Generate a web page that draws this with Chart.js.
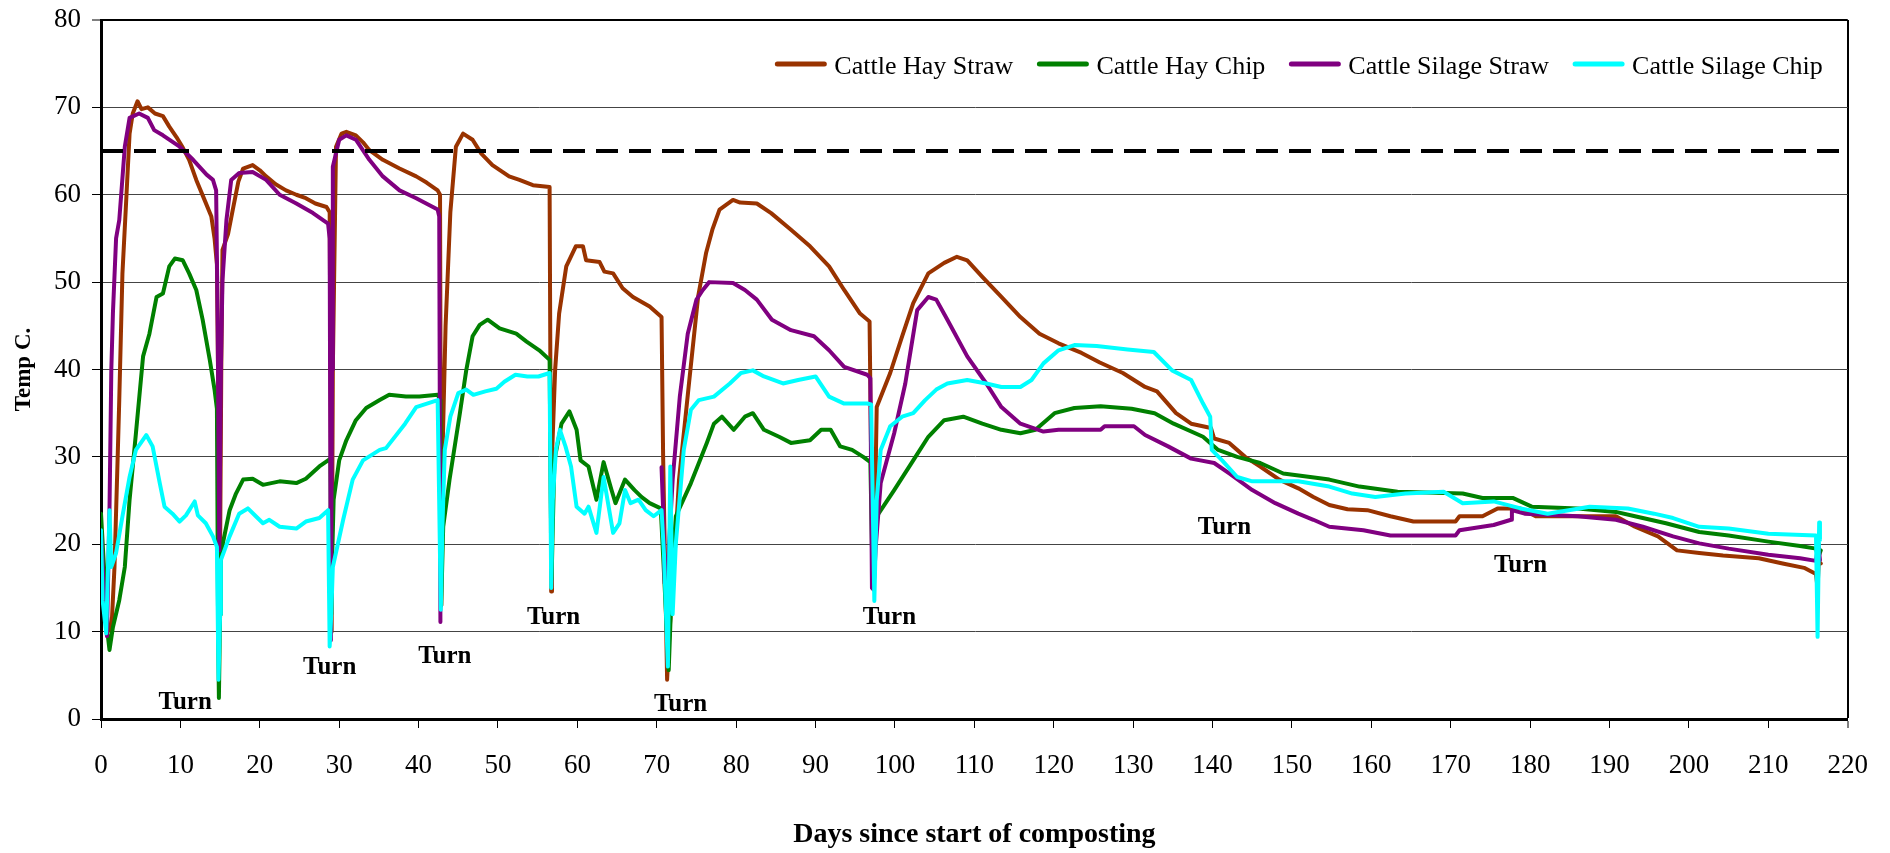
<!DOCTYPE html>
<html><head><meta charset="utf-8">
<script src="https://cdn.jsdelivr.net/npm/chart.js@4.4.0/dist/chart.umd.min.js"></script>
<style>html,body{margin:0;padding:0;background:#fff}#wrap{width:1890px;height:853px;position:relative}</style>
</head><body><div id="wrap"><canvas id="c"></canvas></div>
<script>
const seriesNames = ['Cattle Hay Straw', 'Cattle Hay Chip', 'Cattle Silage Straw', 'Cattle Silage Chip'];
const seriesColors = ['#993300', '#008000', '#800080', '#00FFFF'];

const hayStrawDays = [0,0.5,0.9,1.3,1.7,2.1,2.3,2.7,3.2,3.6,4.0,4.6,5.1,5.9,6.8,7.8,8.6,9.5,10.3,11.1,12.0,13.0,13.9,14.3,14.6,14.85,15.0,15.15,15.3,16.0,16.6,17.3,17.9,19.1,20.0,20.8,22.0,23.3,24.6,25.8,27.0,28.4,28.8,28.95,29.05,29.2,29.6,30.3,30.9,32.1,33.0,33.8,35.5,37.6,39.7,41.0,42.4,42.7,42.85,43.0,43.4,44.0,44.7,45.6,46.8,47.9,49.3,51.4,52.7,54.4,56.5,56.6,56.7,56.8,57.2,57.7,58.6,59.8,60.7,61.1,62.8,63.4,64.5,65.7,67.0,69.1,70.6,70.8,71.3,71.6,72.2,72.8,74.1,75.2,76.2,77.0,77.9,79.6,80.5,82.6,84.4,86.9,89.3,91.7,93.6,95.6,96.8,97.0,97.3,97.5,97.7,99.4,100.9,102.3,104.2,106.2,107.8,109.1,111.0,113.4,115.8,118.2,120.6,123.5,125.8,128.7,131.5,133.0,135.4,137.3,139.8,140.2,142.1,144.1,146.0,148.4,150.8,152.7,154.7,157.0,159.5,162.4,165.3,170.6,171.1,174.0,175.9,178.8,180.7,186.0,190.8,193.2,196.1,198.5,201.3,204.3,208.8,211.8,214.5,216.0,216.2,216.35,216.6];
const hayStrawTemps = [20.5,14,10.5,10,17.4,30,36.5,51,59.8,67,69.3,70.7,69.8,70.0,69.3,69.0,67.8,66.6,65.4,64.0,61.7,59.5,57.5,55,52,30,19,40,53.7,55.5,58.3,61.5,63.0,63.4,62.8,62.1,61.2,60.5,60.0,59.6,59.0,58.6,58.0,30,10,40,65.5,67.0,67.2,66.8,66.0,65.1,64.0,63.0,62.1,61.4,60.5,60,13,30,45,58,65.5,67.0,66.3,64.7,63.4,62.1,61.7,61.1,60.9,40,14.6,30,40,46.4,51.8,54.1,54.1,52.5,52.3,51.2,51.0,49.3,48.3,47.2,46.0,30,4.5,10,18,27.4,38.8,48.3,53.3,56,58.3,59.4,59.1,59.0,57.9,56.0,54.1,51.8,49.1,46.4,45.5,30,16,25,35.7,39.6,43.8,47.6,51.0,52.2,52.9,52.5,50.6,48.3,46.0,44.1,43.0,41.9,40.8,39.6,38.0,37.5,35.0,33.8,33.3,32.1,31.6,30.0,28.9,27.4,26.4,25.4,24.5,24.0,23.9,23.2,22.6,22.6,23.2,23.2,24.1,24.1,23.2,23.2,23.2,22.0,20.9,19.3,19.0,18.7,18.4,17.8,17.3,16.6,15,18,17.8];

const hayChipDays = [0,0.4,0.8,1.07,1.5,2.3,3.0,3.6,4.4,5.3,6.1,7.0,7.8,8.6,9.3,10.3,11.1,12.0,12.8,13.7,14.3,14.6,14.75,14.85,15.0,15.1,16.2,17.0,17.9,19.1,20.4,22.5,24.6,25.8,27.5,28.6,28.9,29.0,29.1,29.3,30.0,30.9,32.1,33.4,35.1,36.3,38.4,40.1,42.4,42.75,42.85,43.1,43.9,45.2,46.0,46.8,47.7,48.7,50.2,52.3,53.6,55.2,56.5,56.65,56.75,57.1,58.0,59.0,59.9,60.4,61.4,62.4,63.3,64.3,64.8,66.0,67.2,68.1,69.1,70.5,71.0,71.5,72.0,72.4,74.3,76.3,77.2,78.2,79.7,81.1,82.1,83.5,85.4,86.9,89.3,90.7,91.9,93.1,94.6,96.0,96.9,97.2,97.5,97.7,99.9,102.3,104.2,106.2,108.6,111.0,113.4,115.8,117.7,120.1,122.6,125.9,129.8,132.7,135.1,138.8,140.7,143.1,146.0,148.9,152.3,154.7,158.5,163.3,171.5,174.0,177.8,180.2,186.0,190.8,193.2,197.1,201.3,205.0,210.0,214.0,216.0,216.3,216.6];
const hayChipTemps = [23.5,17,10,7.9,10.5,13.6,17.4,25.1,32.7,41.5,44.1,48.3,48.7,51.8,52.7,52.5,51.0,49.1,45.7,41.1,37.7,35.5,10,2.4,12,19.0,23.9,25.8,27.4,27.5,26.8,27.2,27.0,27.5,28.9,29.6,29.8,12,18,25.1,29.6,31.9,34.2,35.6,36.5,37.1,36.9,36.9,37.1,36.5,13,22.0,27.4,35.0,39.9,43.8,45.1,45.7,44.7,44.1,43.2,42.2,41.1,25,16,29.6,33.8,35.2,33.1,29.6,28.9,25.1,29.4,26.2,24.7,27.4,26.2,25.4,24.7,24.1,15,5.6,18,23.2,27.0,31.6,33.8,34.6,33.1,34.6,35.0,33.1,32.3,31.6,31.9,33.1,33.1,31.2,30.8,30.0,29.4,15,20,23.2,26.2,29.6,32.3,34.2,34.6,33.8,33.1,32.7,33.1,35.0,35.6,35.8,35.5,35.0,33.8,32.3,30.8,30.0,29.3,28.1,27.7,27.4,26.6,26.0,25.8,25.3,25.3,24.3,24.1,23.7,23.2,22.4,21.4,21.0,20.3,19.8,19.5,18.5,19.3];

const silageStrawDays = [0,0.4,0.75,1.07,1.3,1.5,1.9,2.3,3.0,3.6,4.8,5.9,6.7,7.8,9.9,11.6,13.3,14.1,14.5,14.7,14.9,15.1,15.3,15.8,16.4,17.4,19.1,20.8,22.5,24.6,26.7,28.6,28.8,28.95,29.1,29.2,30.0,30.9,32.1,33.8,35.5,37.6,39.7,42.4,42.6,42.75,43.0,70.6,70.8,71.0,71.3,72.0,72.9,73.9,75.0,75.8,76.6,79.6,81.1,82.6,84.5,86.9,89.8,91.7,93.6,96.5,96.9,97.1,97.3,97.6,98.2,99.9,101.3,102.8,104.2,105.2,106.6,109.1,111.5,113.4,115.8,118.7,120.6,125.9,126.4,130.1,131.5,134.4,137.3,140.2,142.1,145.0,147.9,150.8,152.7,154.7,159.0,162.4,170.6,171.1,175.4,177.6,177.7,179.3,186.0,190.8,194.2,198.0,201.3,205.0,210.0,214.0,216.0,216.3,216.5];
const silageStrawTemps = [21.5,14,9.5,24,40,46.4,55,57.1,65.5,68.8,69.3,68.8,67.4,66.8,65.5,64.0,62.3,61.7,60.5,45,19.3,40,50.2,57.1,61.7,62.5,62.6,61.7,60.0,59.0,57.9,56.7,55,9,40,63.2,66.3,66.8,66.3,64.0,62.1,60.5,59.6,58.3,57.5,11.1,null,28.8,24,15.5,16,27.4,36.9,44.1,48.0,49.1,50.0,49.9,49.1,48.0,45.7,44.5,43.8,42.2,40.3,39.4,39,15,14.8,20,27.0,32.7,38.4,46.8,48.3,48.0,45.7,41.5,38.4,35.7,33.8,32.9,33.1,33.1,33.5,33.5,32.5,31.2,29.8,29.3,28.1,26.2,24.7,23.5,22.8,22.0,21.6,21.0,21.0,21.6,22.2,22.8,23.9,23.5,23.2,22.8,22.0,20.9,20.1,19.5,18.8,18.4,18.1,20,18.2];

const silageChipDays = [0,0.2,0.65,0.9,1.07,1.3,1.9,2.7,3.6,4.4,5.7,6.5,7.4,8.0,9.0,9.9,10.7,11.8,12.2,13.2,14.1,14.6,14.8,15.0,15.1,16.2,17.4,18.5,19.5,20.4,21.2,22.5,24.6,25.8,27.5,28.6,28.8,29.0,29.2,30.5,31.7,33.0,35.1,35.9,38.3,39.7,42.4,42.8,43.0,43.3,44.0,45.0,46.0,46.9,48.4,49.8,50.8,52.2,53.7,55.1,56.5,56.7,56.9,57.3,57.8,58.5,59.2,59.9,60.9,61.4,62.4,63.3,64.5,65.3,66.0,66.7,67.7,68.6,69.6,70.6,70.9,71.4,71.7,72.0,72.4,73.4,74.3,75.3,77.2,79.2,80.6,82.1,83.5,85.9,87.8,90.0,91.7,93.6,96.5,97.0,97.4,97.7,98.2,99.4,100.9,102.3,103.8,105.2,106.6,109.1,111.5,113.4,115.8,117.2,118.7,120.6,122.6,125.4,129.3,132.6,134.9,137.3,138.8,139.7,139.9,141.2,143.1,145.0,150.8,154.7,157.6,160.5,164.3,169.1,171.5,175.4,178.8,182.2,187.5,192.3,195.6,198.0,201.3,205.0,210.0,216.0,216.2,216.4,216.5];
const silageChipTemps = [21.6,13.6,9.8,18,23.9,17.4,19,23.2,27.7,30.8,32.5,31.2,27.0,24.3,23.5,22.6,23.3,24.9,23.3,22.4,20.9,19.7,4.5,12,18.2,20.9,23.5,24.1,23.2,22.4,22.8,22.0,21.8,22.6,23.0,23.9,8.3,12,17.4,22.8,27.4,29.6,30.8,31.0,33.8,35.7,36.5,12.5,22,30.8,34.6,37.3,37.7,37.1,37.5,37.8,38.6,39.4,39.2,39.2,39.6,15.0,25,30.8,33.1,31.2,28.9,24.3,23.5,24.3,21.3,27.7,21.3,22.4,26.2,24.7,25.1,23.9,23.2,23.9,19,6.0,28.9,12,20.1,30.8,35.4,36.5,36.9,38.4,39.6,39.9,39.2,38.4,38.8,39.2,36.9,36.1,36.1,36,13.5,25,30.8,33.5,34.6,35.0,36.5,37.7,38.4,38.8,38.4,38.0,38.0,38.8,40.7,42.2,42.8,42.7,42.3,42.0,39.9,38.8,36.1,34.6,30.8,29.6,27.7,27.2,27.2,26.6,25.8,25.4,25.8,26.0,24.7,24.9,24.1,23.5,24.3,24.1,23.5,23.0,22.0,21.8,21.2,21.0,9.4,22.5,20.5];

const thresholdTemp = 65;
const xRange = [0, 220];
const yRange = [0, 80];
const turnLabelDays = [10.6, 28.8, 43.3, 57.0, 73.0, 99.3, 141.5, 178.8];
const turnLabelTemps = [1.9, 5.9, 7.2, 11.6, 1.6, 11.6, 21.9, 17.6];

const SERIF = "'Liberation Serif', 'Times New Roman', serif";
Chart.defaults.font.family = SERIF;
Chart.defaults.color = '#000';

function toPoints(days, temps) { return days.map((d, i) => ({x: d, y: temps[i]})); }
const allDays = [hayStrawDays, hayChipDays, silageStrawDays, silageChipDays];
const allTemps = [hayStrawTemps, hayChipTemps, silageStrawTemps, silageChipTemps];

const datasets = seriesNames.map((name, i) => ({
  label: name,
  data: toPoints(allDays[i], allTemps[i]),
  borderColor: seriesColors[i],
  backgroundColor: seriesColors[i],
  borderWidth: 4,
  pointRadius: 0,
  tension: 0,
  spanGaps: false,
  borderJoinStyle: 'round',
  borderCapStyle: 'round',
  order: 4 - i
}));
datasets.push({
  label: 'threshold',
  data: [{x: xRange[0], y: thresholdTemp}, {x: xRange[1], y: thresholdTemp}],
  borderColor: '#000', borderWidth: 4, borderDash: [22, 11], pointRadius: 0, order: 0
});

const turnPlugin = {
  id: 'turns',
  afterDatasetsDraw(chart) {
    const {ctx, scales: {x, y}} = chart;
    ctx.save();
    ctx.font = 'bold 25px ' + SERIF;
    ctx.fillStyle = '#000';
    ctx.textAlign = 'center';
    ctx.textBaseline = 'middle';
    turnLabelDays.forEach((d, i) => ctx.fillText('Turn', x.getPixelForValue(d), y.getPixelForValue(turnLabelTemps[i])));
    ctx.restore();
  }
};

const legendPlugin = {
  id: 'insideLegend',
  afterDraw(chart) {
    const {ctx, chartArea} = chart;
    ctx.save();
    ctx.font = '26px ' + SERIF;
    const lineW = 51, gapText = 8, gapItem = 24;
    const items = seriesNames.map((n, i) => ({n, c: seriesColors[i], w: ctx.measureText(n).width}));
    const total = items.reduce((s, it) => s + lineW + gapText + it.w, 0) + gapItem * (items.length - 1);
    let x = chartArea.right - 25 - total;
    const yText = chartArea.top + 47;
    items.forEach(it => {
      ctx.strokeStyle = it.c; ctx.lineWidth = 5; ctx.lineCap = 'round';
      ctx.beginPath(); ctx.moveTo(x + 2, yText - 3); ctx.lineTo(x + lineW - 2, yText - 3); ctx.stroke();
      ctx.fillStyle = '#000'; ctx.textBaseline = 'middle'; ctx.textAlign = 'left';
      ctx.fillText(it.n, x + lineW + gapText, yText);
      x += lineW + gapText + it.w + gapItem;
    });
    ctx.restore();
  }
};

new Chart(document.getElementById('c'), {
  type: 'line',
  data: {datasets},
  options: {
    responsive: true,
    maintainAspectRatio: false,
    animation: false,
    devicePixelRatio: 1,
    layout: {padding: {left: 0, right: 42, top: 20, bottom: 0}},
    plugins: {legend: {display: false}, tooltip: {enabled: false}},
    scales: {
      x: {
        type: 'linear', min: xRange[0], max: xRange[1],
        ticks: {stepSize: 10, font: {size: 27}, padding: 22, color: '#000', maxRotation: 0, autoSkip: false},
        grid: {
          color: c => (c.tick && c.tick.value === 220) ? '#000' : 'rgba(0,0,0,0)',
          lineWidth: c => (c.tick && c.tick.value === 220) ? 2 : 1,
          tickColor: '#000', tickLength: 9, tickWidth: 1, drawTicks: true
        },
        border: {display: true, color: '#000', width: 3},
        title: {display: true, text: 'Days since start of composting', font: {size: 28, weight: 'bold'}, padding: {top: 0, bottom: 1}, color: '#000'},
        afterFit: s => { s.height = 134; }
      },
      y: {
        min: yRange[0], max: yRange[1],
        ticks: {stepSize: 10, font: {size: 27}, padding: 11, color: '#000'},
        grid: {
          color: c => (c.tick && c.tick.value === 80) ? '#000' : '#444',
          lineWidth: c => (c.tick && c.tick.value === 80) ? 2 : 1,
          tickColor: '#000', tickLength: 9, tickWidth: 1
        },
        border: {display: true, color: '#000', width: 3},
        title: {display: true, text: 'Temp C.', font: {size: 23, weight: 'bold'}, padding: {top: 10, bottom: 0}, color: '#000'},
        afterFit: s => { s.width = 101; s.paddingTop = 0; s.paddingBottom = 0; }
      }
    }
  },
  plugins: [turnPlugin, legendPlugin]
});
</script></body></html>
